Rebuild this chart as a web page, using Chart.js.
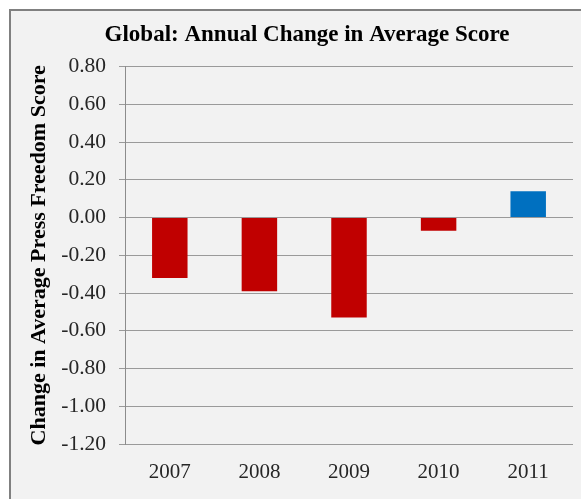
<!DOCTYPE html>
<html>
<head>
<meta charset="utf-8">
<script src="https://cdn.jsdelivr.net/npm/chart.js@4/dist/chart.umd.min.js"></script>
<style>
  html, body { margin: 0; padding: 0; background: #ffffff; overflow: hidden; }
  #frame { position: absolute; left: 9px; top: 9px; width: 700px; height: 600px;
           border-left: 2px solid #808080; border-top: 2px solid #808080; background: #f2f2f2; }
  #wrap { position: absolute; left: 0; top: 0; width: 581px; height: 499px; }
</style>
</head>
<body>
<div id="frame"></div>
<div id="wrap"><canvas id="c" width="581" height="499"></canvas></div>
<script>
const categories = ["2007", "2008", "2009", "2010", "2011"];
const changeValues = [-0.32, -0.39, -0.53, -0.07, 0.14];
const barColors = ["#C00000", "#C00000", "#C00000", "#C00000", "#0070C0"];
const yTickValues = [-1.2, -1.0, -0.8, -0.6, -0.4, -0.2, 0.0, 0.2, 0.4, 0.6, 0.8];
const chartTitle = "Global: Annual Change in Average Score";
const yAxisTitle = "Change in Average Press Freedom Score";

const serif = "'Liberation Serif', 'Times New Roman', serif";

new Chart(document.getElementById('c'), {
  type: 'bar',
  data: {
    labels: categories,
    datasets: [{
      data: changeValues,
      backgroundColor: barColors,
      borderWidth: 0,
      categoryPercentage: 1,
      barPercentage: 0.396
    }]
  },
  options: {
    responsive: false,
    animation: false,
    layout: { padding: { left: 41, right: 8, top: 0, bottom: 0 } },
    plugins: {
      legend: { display: false },
      tooltip: { enabled: false },
      title: {
        display: true,
        text: chartTitle,
        color: '#000000',
        font: { family: serif, size: 23, weight: 'bold', lineHeight: 1.2 },
        padding: { top: 21, bottom: 18 }
      }
    },
    scales: {
      x: {
        grid: { display: false },
        border: { display: false },
        ticks: { color: '#262626', font: { family: serif, size: 21 }, padding: 8, maxRotation: 0 },
        afterFit: (axis) => { axis.height = 55; }
      },
      y: {
        min: -1.2,
        max: 0.8,
        afterBuildTicks: (axis) => { axis.ticks = yTickValues.map(v => ({ value: v })); },
        grid: { color: '#9a9a9a', lineWidth: 1, drawTicks: true, tickLength: 6, tickColor: '#9a9a9a' },
        border: { display: true, color: '#8c8c8c', width: 1 },
        ticks: {
          color: '#262626',
          font: { family: serif, size: 21.5 },
          padding: 13,
          callback: (v) => Number(v).toFixed(2)
        },
        title: {
          display: true,
          text: yAxisTitle,
          color: '#000000',
          font: { family: serif, size: 22, weight: 'bold', lineHeight: 1.2 },
          padding: { top: -15, bottom: 0 }
        },
        afterFit: (axis) => { axis.width = 84; }
      }
    }
  }
});
</script>
</body>
</html>
